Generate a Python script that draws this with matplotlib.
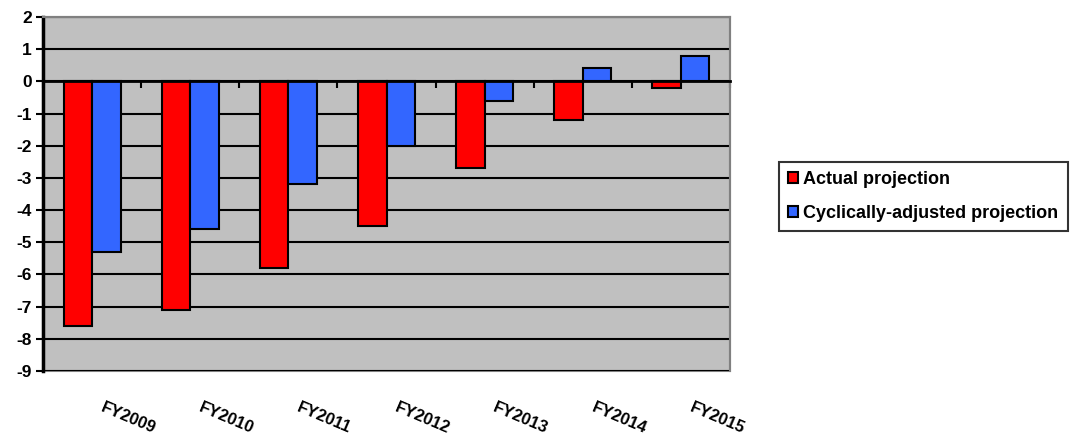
import matplotlib.pyplot as plt
import numpy as np
from matplotlib.patches import Rectangle

# Budget balance projections by fiscal year
years = ['FY2009', 'FY2010', 'FY2011', 'FY2012', 'FY2013', 'FY2014', 'FY2015']
actual = [-7.6, -7.1, -5.8, -4.5, -2.7, -1.2, -0.2]
cyclical = [-5.3, -4.6, -3.2, -2.0, -0.6, 0.4, 0.8]

plt.rcParams['font.family'] = ['Liberation Sans', 'DejaVu Sans']
plt.rcParams['font.weight'] = 'bold'
plt.rcParams['axes.unicode_minus'] = False

fig = plt.figure(figsize=(10.7, 4.41), dpi=100)
ax = fig.add_axes([43 / 1070, 1 - 371 / 441, 687 / 1070, 354 / 441])
ax.set_facecolor('#C0C0C0')

x = np.arange(len(years))
w = 0.29
ax.bar(x - w / 2, actual, w, color='#FF0000', edgecolor='black', linewidth=1.5,
       label='Actual projection', zorder=3)
ax.bar(x + w / 2, cyclical, w, color='#3366FF', edgecolor='black', linewidth=1.5,
       label='Cyclically-adjusted projection', zorder=3)

ax.set_xlim(-0.5, len(years) - 0.5)
ax.set_ylim(-9, 2)
ax.set_yticks(range(-9, 3))
ax.set_yticklabels([str(v) for v in range(-9, 3)], fontweight='bold', fontsize=12.5)
ax.tick_params(axis='y', direction='out', length=5, width=1.5, pad=3)
ax.yaxis.grid(True, color='black', linewidth=1.5, zorder=1)
ax.set_axisbelow(True)

# zero line acts as the category axis, ticks between categories
ax.spines['bottom'].set_position(('data', 0))
ax.spines['bottom'].set_linewidth(2)
ax.spines['bottom'].set_zorder(4)
ax.set_xticks(np.arange(-0.5, len(years), 1.0))
ax.set_xticklabels([])
ax.tick_params(axis='x', direction='out', length=5, width=1.5)
ax.spines['left'].set_linewidth(2.5)
for s in ['top', 'right']:
    ax.spines[s].set_color('#808080')
    ax.spines[s].set_linewidth(1.5)
ax.add_patch(Rectangle((0, 0), 1, 1, transform=ax.transAxes, fill=False,
                       edgecolor='#808080', linewidth=1.5, zorder=0.5, clip_on=False))

# rotated category labels below the plot area
for xi, name in zip(x, years):
    ax.annotate(name, xy=(xi, 0), xycoords=('data', 'axes fraction'),
                xytext=(26, -34), textcoords='offset points', ha='center', va='center',
                rotation=-23, fontsize=12, fontweight='bold')

leg = fig.legend(loc='upper left', bbox_to_anchor=(779 / 1070, 1 - 162 / 441),
                 frameon=True, fancybox=False, edgecolor='black',
                 prop={'size': 13, 'weight': 'bold'},
                 handlelength=0.55, handleheight=0.55, handletextpad=0.3,
                 labelspacing=0.95, borderpad=0.5, borderaxespad=0)
leg.get_frame().set_linewidth(1.5)

fig.savefig('out.png', dpi=100)
